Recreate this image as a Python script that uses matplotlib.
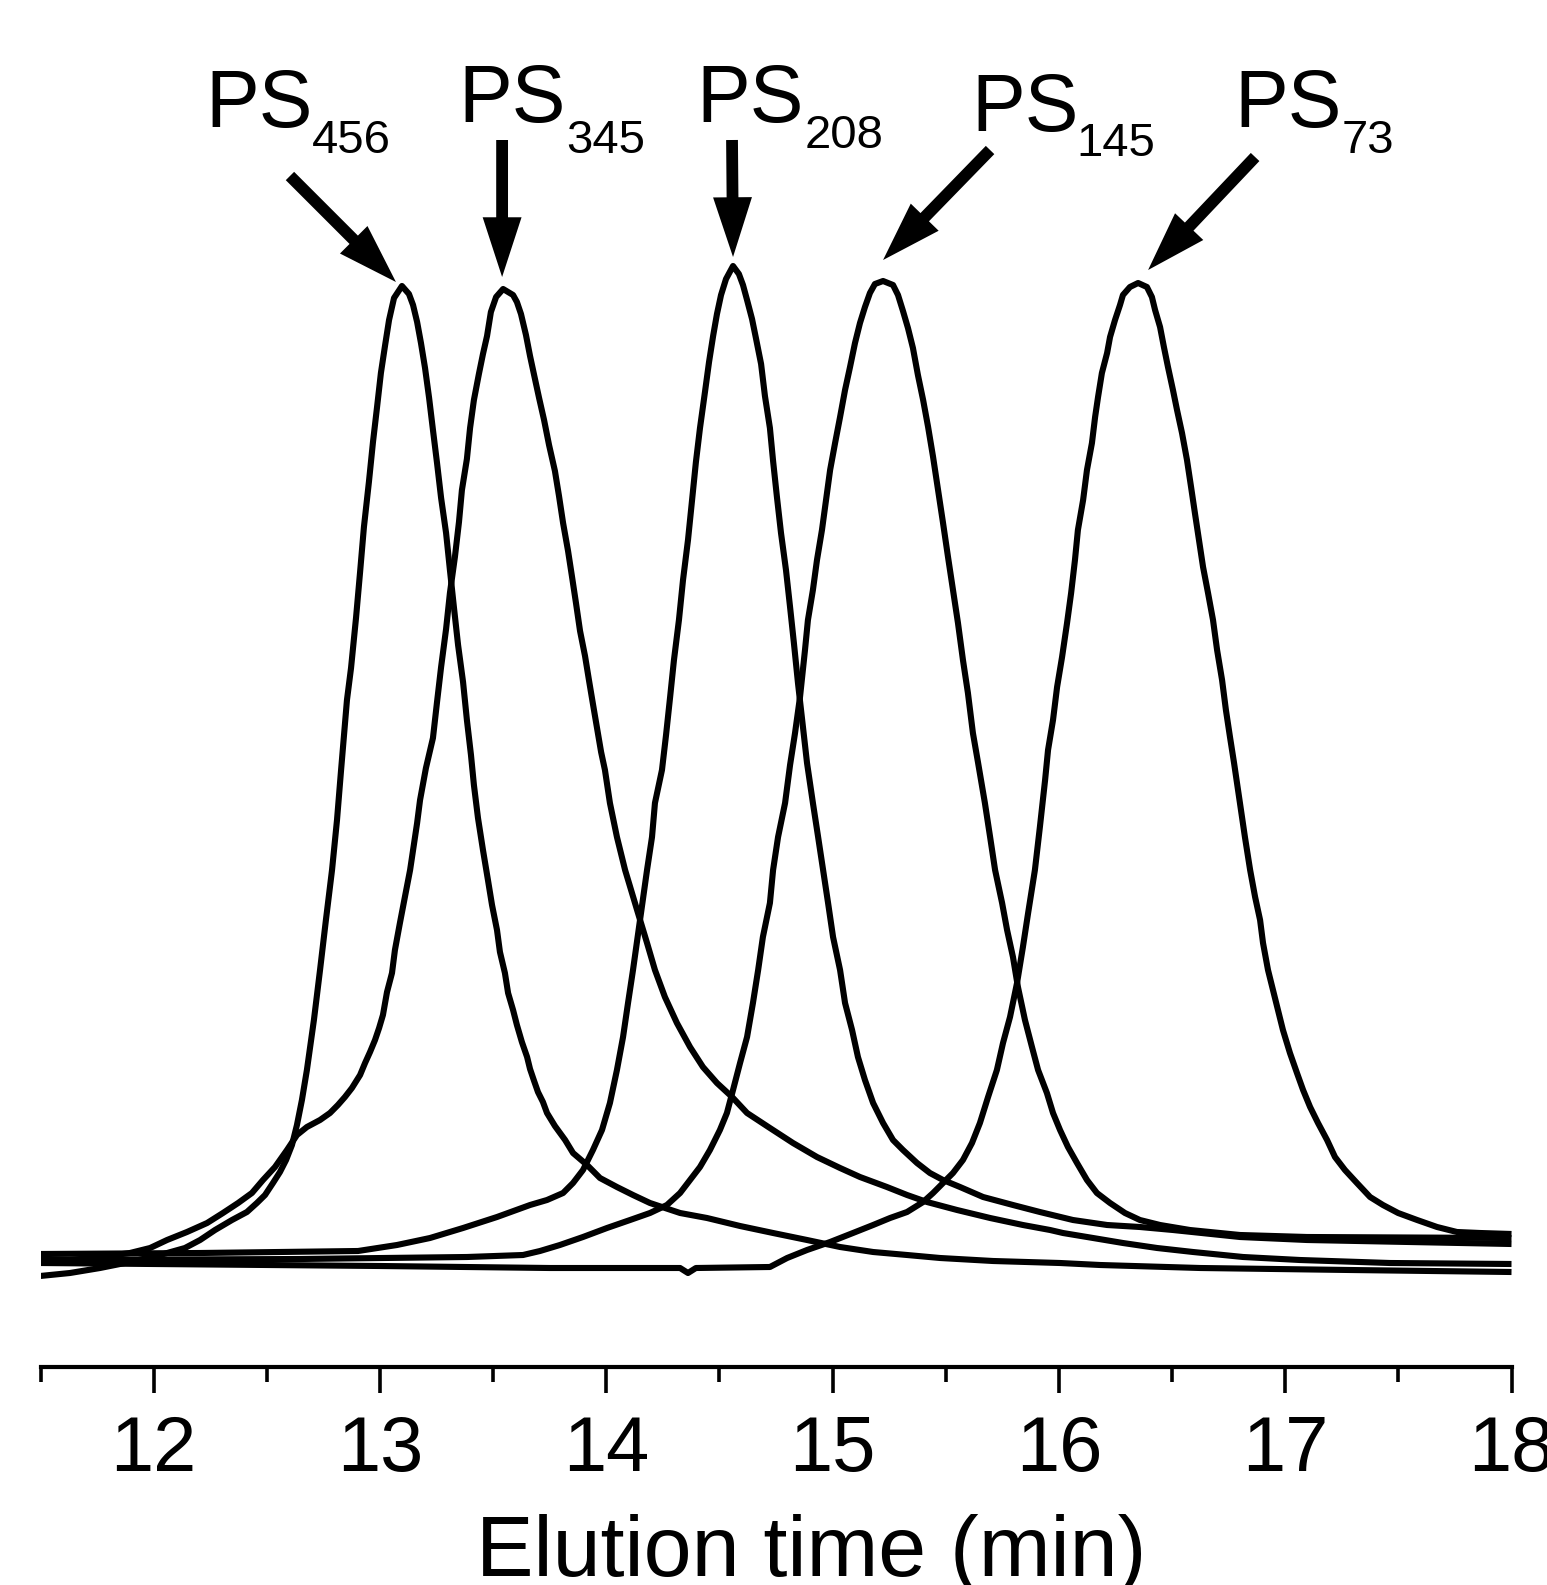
import matplotlib
matplotlib.use("Agg")
import matplotlib.pyplot as plt
from matplotlib.ticker import MultipleLocator
from matplotlib.transforms import offset_copy
from matplotlib.patches import ArrowStyle
import numpy as np

plt.rcParams['font.family'] = ['Liberation Sans', 'DejaVu Sans']

# ---------------- data (elution time in min, detector signal in a.u.) ----------------
sample_subscripts = ["456", "345", "208", "145", "73"]

t_ps456 = [11.498, 11.630, 11.763, 11.895, 12.028, 12.138, 12.205, 12.271, 12.346, 12.412,
           12.456, 12.492, 12.527, 12.558, 12.585, 12.611, 12.633, 12.655, 12.677, 12.708,
           12.735, 12.761, 12.788, 12.810, 12.828, 12.841, 12.854, 12.872, 12.894, 12.912,
           12.929, 12.951, 12.969, 12.987, 13.004, 13.022, 13.040, 13.062, 13.097, 13.128,
           13.146, 13.164, 13.181, 13.199, 13.217, 13.234, 13.252, 13.270, 13.292, 13.309,
           13.327, 13.345, 13.367, 13.384, 13.402, 13.415, 13.433, 13.455, 13.477, 13.495,
           13.517, 13.530, 13.552, 13.566, 13.588, 13.605, 13.627, 13.650, 13.663, 13.681,
           13.698, 13.720, 13.738, 13.773, 13.818, 13.853, 13.915, 13.972, 14.047, 14.118,
           14.193, 14.326, 14.445, 14.591, 14.737, 14.887, 15.033, 15.179, 15.329, 15.475,
           15.709, 16.005, 16.182, 16.624, 17.286, 18.000]
i_ps456 = [-1.6, -1.3, -0.8, -0.2, 0.5, 1.2, 2.0, 3.0, 4.0, 4.8,
           5.7, 6.5, 7.7, 8.8, 10.0, 11.5, 13.5, 16.0, 19.0, 24.0,
           29.0, 34.0, 39.0, 44.0, 49.0, 52.5, 56.0, 59.2, 64.2, 68.8,
           73.3, 77.8, 81.8, 85.3, 88.7, 91.4, 94.0, 96.2, 97.4, 96.6,
           95.5, 93.8, 91.7, 89.2, 86.2, 83.0, 79.7, 76.2, 72.7, 69.0,
           65.2, 61.5, 57.8, 54.0, 50.5, 47.5, 44.2, 41.0, 38.0, 35.5,
           33.0, 30.8, 28.7, 26.7, 25.0, 23.5, 21.8, 20.3, 19.1, 17.9,
           16.8, 15.8, 14.7, 13.4, 12.0, 10.7, 9.5, 8.2, 7.3, 6.5,
           5.7, 4.7, 4.2, 3.4, 2.7, 2.0, 1.3, 0.8, 0.5, 0.2,
           -0.1, -0.3, -0.5, -0.8, -1.0, -1.2]

t_ps345 = [11.498, 11.630, 11.763, 11.895, 11.984, 12.059, 12.147, 12.236, 12.306, 12.373,
           12.434, 12.483, 12.536, 12.589, 12.633, 12.677, 12.735, 12.779, 12.814, 12.845,
           12.876, 12.912, 12.934, 12.956, 12.978, 12.996, 13.013, 13.031, 13.053, 13.066,
           13.088, 13.110, 13.133, 13.164, 13.177, 13.203, 13.234, 13.252, 13.270, 13.292,
           13.309, 13.331, 13.349, 13.362, 13.384, 13.398, 13.415, 13.437, 13.455, 13.473,
           13.490, 13.513, 13.544, 13.588, 13.605, 13.623, 13.645, 13.663, 13.681, 13.703,
           13.725, 13.747, 13.773, 13.791, 13.809, 13.831, 13.848, 13.866, 13.884, 13.906,
           13.924, 13.941, 13.959, 13.977, 13.994, 14.016, 14.047, 14.083, 14.136, 14.180,
           14.215, 14.259, 14.312, 14.370, 14.427, 14.489, 14.556, 14.622, 14.723, 14.825,
           14.931, 15.033, 15.121, 15.240, 15.329, 15.417, 15.550, 15.696, 15.841, 15.961,
           16.018, 16.151, 16.283, 16.434, 16.593, 16.814, 17.065, 17.463, 18.000]
i_ps345 = [-0.2, 0.0, 0.3, 0.7, 1.2, 2.0, 2.8, 3.7, 4.7, 5.7,
           6.7, 8.0, 9.3, 11.0, 12.5, 13.3, 14.0, 14.7, 15.5, 16.3,
           17.2, 18.5, 19.7, 20.8, 22.0, 23.2, 24.5, 26.8, 28.7, 31.0,
           33.7, 36.3, 39.0, 43.7, 46.0, 49.2, 52.2, 55.8, 59.3, 63.1,
           66.7, 70.3, 73.8, 77.0, 80.1, 83.2, 86.0, 88.6, 90.6, 92.4,
           94.8, 96.3, 97.1, 96.5, 95.8, 94.6, 92.5, 90.4, 88.5, 86.2,
           84.0, 81.5, 78.9, 76.4, 73.7, 70.9, 68.4, 65.7, 62.9, 60.4,
           57.9, 55.6, 53.2, 50.8, 49.0, 45.7, 42.3, 39.0, 35.0, 31.7,
           29.0, 26.3, 23.7, 21.3, 19.3, 17.7, 16.3, 14.7, 13.2, 11.7,
           10.3, 9.2, 8.3, 7.3, 6.5, 5.8, 5.0, 4.2, 3.5, 3.0,
           2.7, 2.2, 1.7, 1.2, 0.8, 0.3, 0.0, -0.3, -0.4]

t_ps208 = [11.498, 12.205, 12.903, 13.075, 13.221, 13.367, 13.517, 13.663, 13.738, 13.809,
           13.853, 13.897, 13.941, 13.981, 14.016, 14.047, 14.074, 14.096, 14.118, 14.149,
           14.180, 14.202, 14.215, 14.246, 14.264, 14.282, 14.299, 14.321, 14.339, 14.361,
           14.379, 14.396, 14.414, 14.436, 14.454, 14.472, 14.489, 14.507, 14.529, 14.560,
           14.586, 14.604, 14.622, 14.644, 14.662, 14.684, 14.701, 14.723, 14.737, 14.754,
           14.772, 14.794, 14.812, 14.829, 14.847, 14.869, 14.887, 14.913, 14.936, 14.958,
           14.980, 15.002, 15.033, 15.055, 15.086, 15.112, 15.143, 15.179, 15.223, 15.267,
           15.311, 15.373, 15.430, 15.488, 15.563, 15.665, 15.797, 15.916, 16.062, 16.213,
           16.358, 16.504, 16.800, 17.096, 18.000]
i_ps208 = [0.6, 0.7, 0.9, 1.5, 2.2, 3.2, 4.3, 5.5, 6.0, 6.7,
           7.7, 9.0, 11.0, 13.0, 15.7, 19.0, 22.3, 25.7, 29.0, 34.0,
           39.0, 42.3, 45.7, 49.0, 52.5, 56.3, 60.0, 64.0, 68.0, 72.0,
           76.0, 79.8, 83.2, 86.8, 89.8, 92.4, 94.6, 96.5, 98.1, 99.4,
           98.6, 97.5, 96.0, 94.1, 92.1, 89.6, 86.4, 83.2, 79.9, 76.3,
           72.7, 69.0, 65.3, 61.7, 57.7, 53.3, 49.7, 45.7, 42.3, 39.0,
           35.7, 32.3, 29.0, 25.7, 23.0, 20.3, 18.0, 15.7, 13.7, 12.0,
           11.0, 9.7, 8.7, 8.0, 7.3, 6.3, 5.5, 4.8, 4.0, 3.5,
           3.3, 3.0, 2.3, 2.0, 1.6]

t_ps145 = [11.498, 12.646, 13.384, 13.632, 13.707, 13.795, 13.897, 14.003, 14.105, 14.193,
           14.268, 14.326, 14.370, 14.414, 14.458, 14.502, 14.533, 14.560, 14.591, 14.622,
           14.648, 14.671, 14.692, 14.723, 14.737, 14.759, 14.790, 14.812, 14.834, 14.856,
           14.878, 14.891, 14.913, 14.931, 14.953, 14.971, 14.989, 15.011, 15.033, 15.055,
           15.077, 15.099, 15.121, 15.143, 15.165, 15.187, 15.223, 15.267, 15.289, 15.311,
           15.333, 15.355, 15.377, 15.400, 15.422, 15.444, 15.466, 15.488, 15.510, 15.532,
           15.554, 15.576, 15.598, 15.620, 15.643, 15.673, 15.696, 15.718, 15.749, 15.771,
           15.797, 15.819, 15.850, 15.881, 15.908, 15.947, 15.974, 16.005, 16.040, 16.080,
           16.124, 16.168, 16.226, 16.292, 16.358, 16.447, 16.579, 16.800, 17.096, 18.000]
i_ps145 = [0.0, 0.1, 0.3, 0.5, 0.9, 1.5, 2.3, 3.2, 4.0, 4.7,
           5.5, 6.7, 8.0, 9.3, 11.0, 13.0, 14.7, 17.0, 19.7, 22.3,
           25.7, 29.0, 32.3, 35.7, 39.0, 42.3, 45.7, 49.5, 52.7, 56.3,
           61.0, 64.0, 67.0, 70.0, 73.0, 76.0, 79.0, 81.7, 84.3, 87.0,
           89.3, 91.7, 93.7, 95.3, 96.7, 97.6, 97.9, 97.5, 96.5, 94.9,
           93.2, 91.2, 88.5, 86.0, 83.3, 80.3, 77.0, 73.7, 70.3, 67.0,
           63.7, 60.0, 56.7, 52.7, 49.7, 45.7, 42.3, 39.0, 35.7, 33.0,
           30.3, 27.3, 24.0, 21.3, 19.0, 16.7, 14.7, 13.0, 11.3, 9.7,
           8.0, 6.7, 5.7, 4.7, 4.0, 3.5, 3.0, 2.5, 2.3, 2.2]

t_ps73 = [11.498, 13.000, 13.751, 14.326, 14.361, 14.396, 14.723, 14.799, 14.887, 14.989,
          15.090, 15.179, 15.254, 15.329, 15.400, 15.444, 15.488, 15.532, 15.576, 15.616,
          15.651, 15.687, 15.726, 15.753, 15.784, 15.815, 15.841, 15.864, 15.894, 15.916,
          15.939, 15.952, 15.974, 15.992, 16.014, 16.036, 16.054, 16.071, 16.084, 16.107,
          16.124, 16.146, 16.160, 16.173, 16.190, 16.213, 16.226, 16.248, 16.270, 16.283,
          16.314, 16.350, 16.389, 16.411, 16.425, 16.447, 16.464, 16.482, 16.504, 16.522,
          16.544, 16.566, 16.584, 16.601, 16.619, 16.637, 16.659, 16.681, 16.699, 16.721,
          16.738, 16.756, 16.774, 16.800, 16.822, 16.845, 16.867, 16.889, 16.902, 16.924,
          16.946, 16.968, 16.990, 17.021, 17.052, 17.079, 17.110, 17.145, 17.185, 17.220,
          17.264, 17.317, 17.375, 17.432, 17.499, 17.583, 17.671, 17.759, 17.861, 18.000]
i_ps73 = [-0.3, -0.6, -0.8, -0.8, -1.3, -0.8, -0.7, 0.2, 1.0, 1.8,
          2.7, 3.5, 4.2, 4.8, 5.8, 6.7, 7.7, 8.7, 10.0, 11.7,
          13.7, 16.3, 19.0, 21.7, 24.3, 27.7, 31.3, 34.7, 39.0, 43.3,
          48.0, 51.0, 54.0, 57.3, 60.3, 63.7, 66.7, 70.0, 73.0, 76.0,
          79.0, 81.7, 84.3, 86.3, 88.7, 90.7, 92.3, 94.0, 95.5, 96.5,
          97.3, 97.7, 97.3, 96.3, 95.0, 93.3, 91.3, 89.3, 87.0, 85.0,
          82.7, 80.0, 77.3, 74.7, 72.0, 69.3, 66.7, 64.0, 61.0, 58.0,
          55.0, 52.3, 49.7, 45.7, 42.3, 39.0, 36.3, 34.0, 31.7, 29.0,
          27.0, 25.0, 23.0, 20.7, 18.7, 17.0, 15.3, 13.7, 12.0, 10.3,
          9.0, 7.7, 6.3, 5.5, 4.7, 4.0, 3.3, 2.8, 2.7, 2.6]

series_t = [t_ps456, t_ps345, t_ps208, t_ps145, t_ps73]
series_i = [i_ps456, i_ps345, i_ps208, i_ps145, i_ps73]

# ---------------- layout ----------------
W, H = 1547, 1585
fig = plt.figure(figsize=(W / 100, H / 100), dpi=100)
ax = fig.add_axes([40.55 / W, (H - 1367) / H, 1470.95 / W, 1367 / H])
ax.set_xlim(11.5, 18.0)
ax.set_ylim(-10.7, 126.0)

for t, s in zip(series_t, series_i):
    ax.plot(t, s, color='black', lw=4.4, solid_joinstyle='round', solid_capstyle='butt')

for side in ('left', 'right', 'top'):
    ax.spines[side].set_visible(False)
ax.spines['bottom'].set_linewidth(3)
ax.set_yticks([])
ax.xaxis.set_major_locator(MultipleLocator(1))
ax.xaxis.set_minor_locator(MultipleLocator(0.5))
ax.tick_params(axis='x', which='major', direction='out', length=19, width=2.6,
               labelsize=56, pad=15)
ax.tick_params(axis='x', which='minor', direction='out', length=11, width=2.6)

ax.set_xlabel("Elution time (min)", fontsize=62, va='baseline')
ax.xaxis.set_label_coords((811 - 40.55) / 1470.95, (1367 - 1576) / 1367)

# peak labels: (PS left px, PS baseline px, subscript left px, subscript baseline px)
label_layout = [(205, 127, 312, 153), (458, 122, 566, 153), (696, 122, 805, 148),
                (971, 131, 1076, 156), (1234, 127, 1342, 153)]
for sub, (px, pb, sx, sb) in zip(sample_subscripts, label_layout):
    fig.text(px / W, (H - pb) / H, "PS", fontsize=58, ha='left', va='baseline')
    fig.text(sx / W, (H - sb) / H, sub, fontsize=34, ha='left', va='baseline')

# arrows: offsets in pixels relative to each peak maximum (tip, tail)
arrow_offsets = [((-6, 4), (-112, 110)), ((-1, 12), (-1, 149)), ((0, 9), (-1, 126)),
                 ((0, 21), (107, 131)), ((10, 13), (117, 126))]
style = ArrowStyle.Simple(head_length=43, head_width=28, tail_width=8.5)
for t, s, (tip, tail) in zip(series_t, series_i, arrow_offsets):
    k = int(np.argmax(s))
    pk = (t[k], s[k])
    ax.annotate('', xy=pk,
                xycoords=offset_copy(ax.transData, fig=fig, x=tip[0], y=tip[1], units='dots'),
                xytext=pk,
                textcoords=offset_copy(ax.transData, fig=fig, x=tail[0], y=tail[1], units='dots'),
                arrowprops=dict(arrowstyle=style, mutation_scale=1, fc='black', ec='none',
                                lw=0, shrinkA=0, shrinkB=0))

fig.savefig("out.png", dpi=100)
